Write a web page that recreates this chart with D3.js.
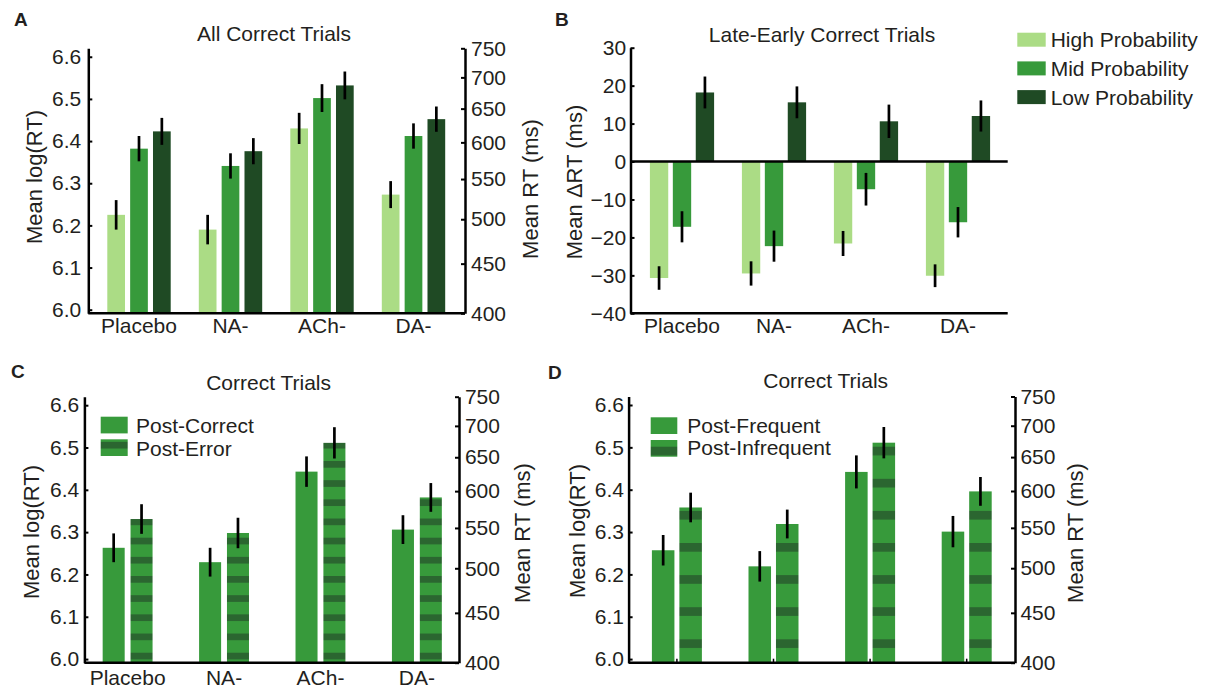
<!DOCTYPE html>
<html>
<head>
<meta charset="utf-8">
<title>Mean RT by drug condition</title>
<style>
  body { margin: 0; background: #fff; }
  svg text { font-family: "Liberation Sans", Arial, sans-serif; fill: #231f20; }
</style>
</head>
<body>
<div id="chart"></div>
<script src="https://d3js.org/d3.v7.min.js"></script>
<script>
// categories and tick labels
const drugs = ["Placebo", "NA-", "ACh-", "DA-"];
const logTicks = [6.0, 6.1, 6.2, 6.3, 6.4, 6.5, 6.6];
const msTicks = [400, 450, 500, 550, 600, 650, 700, 750];
const deltaTicks = [-40, -30, -20, -10, 0, 10, 20, 30];

// A: all correct trials, mean log(RT)
const probNames = ["High Probability", "Mid Probability", "Low Probability"];
const allHigh = [6.225, 6.190, 6.430, 6.273];
const allMid = [6.382, 6.341, 6.502, 6.412];
const allLow = [6.423, 6.376, 6.532, 6.452];
const allHighErr = [0.035, 0.035, 0.037, 0.032];
const allMidErr = [0.030, 0.030, 0.033, 0.030];
const allLowErr = [0.032, 0.031, 0.033, 0.030];

// B: late - early, delta RT in ms
const deltaHigh = [-30.7, -29.5, -21.6, -30.1];
const deltaMid = [-17.2, -22.3, -7.3, -16.0];
const deltaLow = [18.2, 15.6, 10.6, 12.0];
const deltaHighErr = [3.1, 3.2, 3.3, 3.0];
const deltaMidErr = [4.1, 4.1, 4.3, 4.0];
const deltaLowErr = [4.2, 4.2, 4.4, 4.1];

// C: post-correct vs post-error
const postCorrect = [6.263, 6.229, 6.443, 6.306];
const postError = [6.331, 6.298, 6.511, 6.382];
const postCorrectErr = [0.034, 0.034, 0.036, 0.034];
const postErrorErr = [0.035, 0.036, 0.037, 0.034];

// D: post-frequent vs post-infrequent
const postFrequent = [6.257, 6.219, 6.442, 6.301];
const postInfrequent = [6.358, 6.319, 6.511, 6.396];
const postFrequentErr = [0.036, 0.036, 0.039, 0.037];
const postInfrequentErr = [0.035, 0.034, 0.037, 0.034];

const LIGHT = "#abdc85", MID = "#379a3b", DARK = "#1f4a24", STRIPE = "#2b6630";
const logDomain = [Math.log(400), Math.log(750)];
const FS = 21;

const svg = d3.select("#chart").append("svg")
    .attr("width", 1216).attr("height", 690);
const defs = svg.append("defs");

// horizontal stripes for the post-error / post-infrequent bars
function stripes(id, y0, period, band) {
  const p = defs.append("pattern").attr("id", id)
      .attr("patternUnits", "userSpaceOnUse")
      .attr("x", 0).attr("y", y0).attr("width", 10).attr("height", period);
  p.append("rect").attr("width", 10).attr("height", period).attr("fill", MID);
  p.append("rect").attr("width", 10).attr("height", band).attr("fill", STRIPE);
}
stripes("stripeC", 652.7, 19.17, 6.7);
stripes("stripeD", 639.3, 32.1, 8.7);

function panel(p) {
  const g = svg.append("g");
  const x0 = d3.scaleBand().domain(drugs).range(p.xRange);
  const x1 = d3.scaleBand().domain(p.series.map(s => s.name))
      .range([-p.groupW / 2, p.groupW / 2]).paddingInner(p.pad);
  const y = d3.scaleLinear().domain(p.yDomain).range([p.bottom, p.top]);
  const base = p.base !== undefined ? p.base : p.yDomain[0];

  p.series.forEach(s => {
    const left = i => x0(drugs[i]) + x0.bandwidth() / 2 + x1(s.name);
    g.append("g").selectAll("rect").data(s.values).join("rect")
      .attr("x", (d, i) => left(i))
      .attr("width", x1.bandwidth())
      .attr("y", d => Math.min(y(d), y(base)))
      .attr("height", d => Math.abs(y(d) - y(base)))
      .attr("fill", s.fill);
    g.append("g").selectAll("line").data(s.values).join("line")
      .attr("x1", (d, i) => left(i) + x1.bandwidth() / 2)
      .attr("x2", (d, i) => left(i) + x1.bandwidth() / 2)
      .attr("y1", (d, i) => y(d - s.err[i]))
      .attr("y2", (d, i) => y(d + s.err[i]))
      .attr("stroke", "#000").attr("stroke-width", 2.7);
  });

  // left axis
  g.append("g").attr("transform", `translate(${p.left},0)`)
    .call(d3.axisLeft(y).tickValues(p.yTicks).tickFormat(p.yFormat)
      .tickSizeInner(-4).tickSizeOuter(0).tickPadding(p.lPad))
    .attr("font-size", FS)
    .call(a => a.select(".domain").attr("stroke-width", 2.5))
    .call(a => a.selectAll(".tick line").attr("stroke-width", 2));

  // right axis in ms (log spaced)
  if (p.rightAxis) {
    const y2 = d3.scaleLog().domain([400, 750]).range([p.bottom, p.top]);
    g.append("g").attr("transform", `translate(${p.right},0)`)
      .call(d3.axisRight(y2).tickValues(msTicks).tickFormat(d3.format("d"))
        .tickSizeInner(-4).tickSizeOuter(0).tickPadding(p.rPad))
      .attr("font-size", FS)
      .call(a => a.select(".domain").attr("stroke-width", 2.5))
      .call(a => a.selectAll(".tick line").attr("stroke-width", 2));
    g.append("text")
      .attr("transform", `translate(${p.rLabel[0]},${p.rLabel[1]}) rotate(-90)`)
      .attr("text-anchor", "middle").attr("dominant-baseline", "central")
      .attr("font-size", 22).text("Mean RT (ms)");
  }

  // bottom axis
  const xa = g.append("g").attr("transform", `translate(0,${p.bottom})`)
    .call(d3.axisBottom(x0).tickSize(p.xLabels ? 0 : -4)
      .tickPadding(p.xPad).tickFormat(p.xLabels ? d => d : () => ""))
    .attr("font-size", FS);
  xa.select(".domain").remove();
  xa.selectAll(".tick line").attr("stroke-width", 1.5);
  g.append("line").attr("x1", p.left).attr("x2", p.right)
    .attr("y1", p.bottom).attr("y2", p.bottom)
    .attr("stroke", "#000").attr("stroke-width", 2.5);
  if (p.zeroLine) {
    g.append("line").attr("x1", p.left).attr("x2", p.right)
      .attr("y1", y(0)).attr("y2", y(0))
      .attr("stroke", "#000").attr("stroke-width", 2.5);
  }

  g.append("text")
    .attr("transform", `translate(${p.yLabel[0]},${p.yLabel[1]}) rotate(-90)`)
    .attr("text-anchor", "middle").attr("dominant-baseline", "central")
    .attr("font-size", 22).text(p.yTitle);
  g.append("text").attr("x", p.title[0]).attr("y", p.title[1])
    .attr("text-anchor", "middle").attr("font-size", FS).text(p.titleText);
  g.append("text").attr("x", p.letter[0]).attr("y", p.letter[1])
    .attr("font-size", 19).attr("font-weight", "bold").text(p.letterText);

  if (p.legend) {
    const L = p.legend;
    p.series.forEach((s, i) => {
      g.append("rect").attr("x", L.x).attr("y", L.y + i * L.step)
        .attr("width", L.w).attr("height", L.h).attr("fill", s.fill);
      g.append("text").attr("x", L.tx).attr("y", L.y + i * L.step + L.base)
        .attr("font-size", FS).text(s.name);
    });
  }
}

const fmt1 = d3.format(".1f");

panel({
  letterText: "A", letter: [14, 26], titleText: "All Correct Trials", title: [274, 41],
  left: 88.3, right: 465, top: 48.3, bottom: 313.3, xRange: [93.25, 459.25],
  groupW: 63.4, pad: 0.225, yDomain: logDomain, yTicks: logTicks, yFormat: fmt1,
  lPad: 7, rPad: 6, xPad: 5, xLabels: true, rightAxis: true,
  yTitle: "Mean log(RT)", yLabel: [34, 177], rLabel: [530, 189],
  series: [
    { name: probNames[0], values: allHigh, err: allHighErr, fill: LIGHT },
    { name: probNames[1], values: allMid, err: allMidErr, fill: MID },
    { name: probNames[2], values: allLow, err: allLowErr, fill: DARK }
  ]
});

panel({
  letterText: "B", letter: [555, 26], titleText: "Late-Early Correct Trials", title: [822, 42],
  left: 630.5, right: 1007.7, top: 47.7, bottom: 313.3, xRange: [636, 1004],
  groupW: 64.2, pad: 0.2, yDomain: [-40, 30], yTicks: deltaTicks, yFormat: d3.format("d"),
  base: 0, zeroLine: true, lPad: 4.3, xPad: 4.5, xLabels: true, rightAxis: false,
  yTitle: "Mean \u0394RT (ms)", yLabel: [574.5, 182],
  legend: { x: 1017.3, y: 32.7, step: 28.7, w: 28.4, h: 14, tx: 1050.7, base: 14.5 },
  series: [
    { name: probNames[0], values: deltaHigh, err: deltaHighErr, fill: LIGHT },
    { name: probNames[1], values: deltaMid, err: deltaMidErr, fill: MID },
    { name: probNames[2], values: deltaLow, err: deltaLowErr, fill: DARK }
  ]
});

panel({
  letterText: "C", letter: [11, 378], titleText: "Correct Trials", title: [268.6, 390],
  left: 84.4, right: 459, top: 396.7, bottom: 662.7, xRange: [79.4, 465.1],
  groupW: 49.9, pad: 0.21, yDomain: logDomain, yTicks: logTicks, yFormat: fmt1,
  lPad: 5.2, rPad: 5.9, xPad: 7, xLabels: true, rightAxis: true,
  yTitle: "Mean log(RT)", yLabel: [31, 532], rLabel: [522, 533],
  legend: { x: 100.7, y: 416.7, step: 22.6, w: 27, h: 16.7, tx: 136, base: 16.4 },
  series: [
    { name: "Post-Correct", values: postCorrect, err: postCorrectErr, fill: MID },
    { name: "Post-Error", values: postError, err: postErrorErr, fill: "url(#stripeC)" }
  ]
});

panel({
  letterText: "D", letter: [548, 379], titleText: "Correct Trials", title: [825.7, 387.5],
  left: 628.6, right: 1015, top: 396.5, bottom: 662.7, xRange: [628.6, 1015],
  groupW: 50, pad: 0.18, yDomain: logDomain, yTicks: logTicks, yFormat: fmt1,
  lPad: 4.6, rPad: 5.4, xPad: 8, xLabels: false, rightAxis: true,
  yTitle: "Mean log(RT)", yLabel: [577.5, 531], rLabel: [1075.7, 533],
  legend: { x: 650.7, y: 417.3, step: 22.7, w: 26.6, h: 16.7, tx: 687.3, base: 15.2 },
  series: [
    { name: "Post-Frequent", values: postFrequent, err: postFrequentErr, fill: MID },
    { name: "Post-Infrequent", values: postInfrequent, err: postInfrequentErr, fill: "url(#stripeD)" }
  ]
});
</script>
</body>
</html>
